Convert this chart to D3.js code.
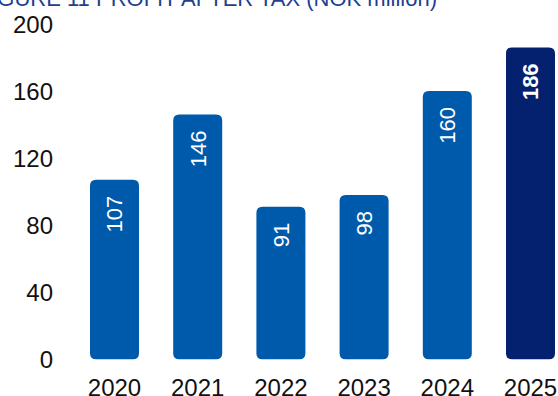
<!DOCTYPE html>
<html>
<head>
<meta charset="utf-8">
<script src="https://cdn.jsdelivr.net/npm/d3@7"></script>
<style>
  html, body { margin: 0; padding: 0; background: #ffffff; }
  svg { display: block; }
  text { font-family: "Liberation Sans", Arial, sans-serif; }
</style>
</head>
<body>
<svg id="chart" width="558" height="396"></svg>
<script>
// Profit after tax, NOK million
const years = ["2020", "2021", "2022", "2023", "2024", "2025"];
const profit = [107, 146, 91, 98, 160, 186];
const highlightYear = "2025";
const yTicks = [0, 40, 80, 120, 160, 200];
const title = "FIGURE 11 PROFIT AFTER TAX (NOK million)";

const svg = d3.select("#chart");

const x = d3.scaleBand()
  .domain(years)
  .range([72.9, 572.1])
  .paddingInner(0.411)
  .paddingOuter(0.2055);

const y = d3.scaleLinear()
  .domain([0, 200])
  .range([359.3, 23.9]);

// Title
svg.append("text")
  .attr("x", 437)
  .attr("y", 6)
  .attr("text-anchor", "end")
  .attr("font-size", 22)
  .attr("fill", "#1f3f8f")
  .text(title);

// Y axis labels only
const yAxis = d3.axisLeft(y).tickValues(yTicks).tickSize(0).tickPadding(0);
const gy = svg.append("g").attr("transform", "translate(53,0)").call(yAxis);
gy.select(".domain").remove();
gy.selectAll("text")
  .attr("font-size", 24)
  .attr("fill", "#111111")
  .attr("font-family", "'Liberation Sans', Arial, sans-serif")
  .attr("dy", "0.36em");

// X axis labels
const xAxis = d3.axisBottom(x).tickSize(0).tickPadding(0);
const gx = svg.append("g").attr("transform", "translate(0,396)").call(xAxis);
gx.select(".domain").remove();
gx.selectAll("text")
  .attr("font-size", 24)
  .attr("fill", "#111111")
  .attr("font-family", "'Liberation Sans', Arial, sans-serif")
  .attr("dy", "0");

// Bar with rounded corners
function roundedBar(x0, y0, w, h, r) {
  r = Math.min(r, w / 2, h / 2);
  return `M${x0 + r},${y0}
    H${x0 + w - r} Q${x0 + w},${y0} ${x0 + w},${y0 + r}
    V${y0 + h - r} Q${x0 + w},${y0 + h} ${x0 + w - r},${y0 + h}
    H${x0 + r} Q${x0},${y0 + h} ${x0},${y0 + h - r}
    V${y0 + r} Q${x0},${y0} ${x0 + r},${y0} Z`;
}

const data = years.map((yr, i) => ({ year: yr, value: profit[i] }));

svg.append("g").selectAll("path")
  .data(data)
  .join("path")
  .attr("d", d => roundedBar(x(d.year), y(d.value), x.bandwidth(), y(0) - y(d.value), 6))
  .attr("fill", d => d.year === highlightYear ? "#03216f" : "#005aab");

// Value labels, rotated inside the top of each bar
svg.append("g").selectAll("text")
  .data(data)
  .join("text")
  .attr("transform", d => `translate(${x(d.year) + x.bandwidth() / 2},${y(d.value) + 16}) rotate(-90)`)
  .attr("text-anchor", "end")
  .attr("dy", "0.36em")
  .attr("font-size", 22)
  .attr("font-weight", d => d.year === highlightYear ? "bold" : "normal")
  .attr("fill", "#ffffff")
  .text(d => d.value);
</script>
</body>
</html>
